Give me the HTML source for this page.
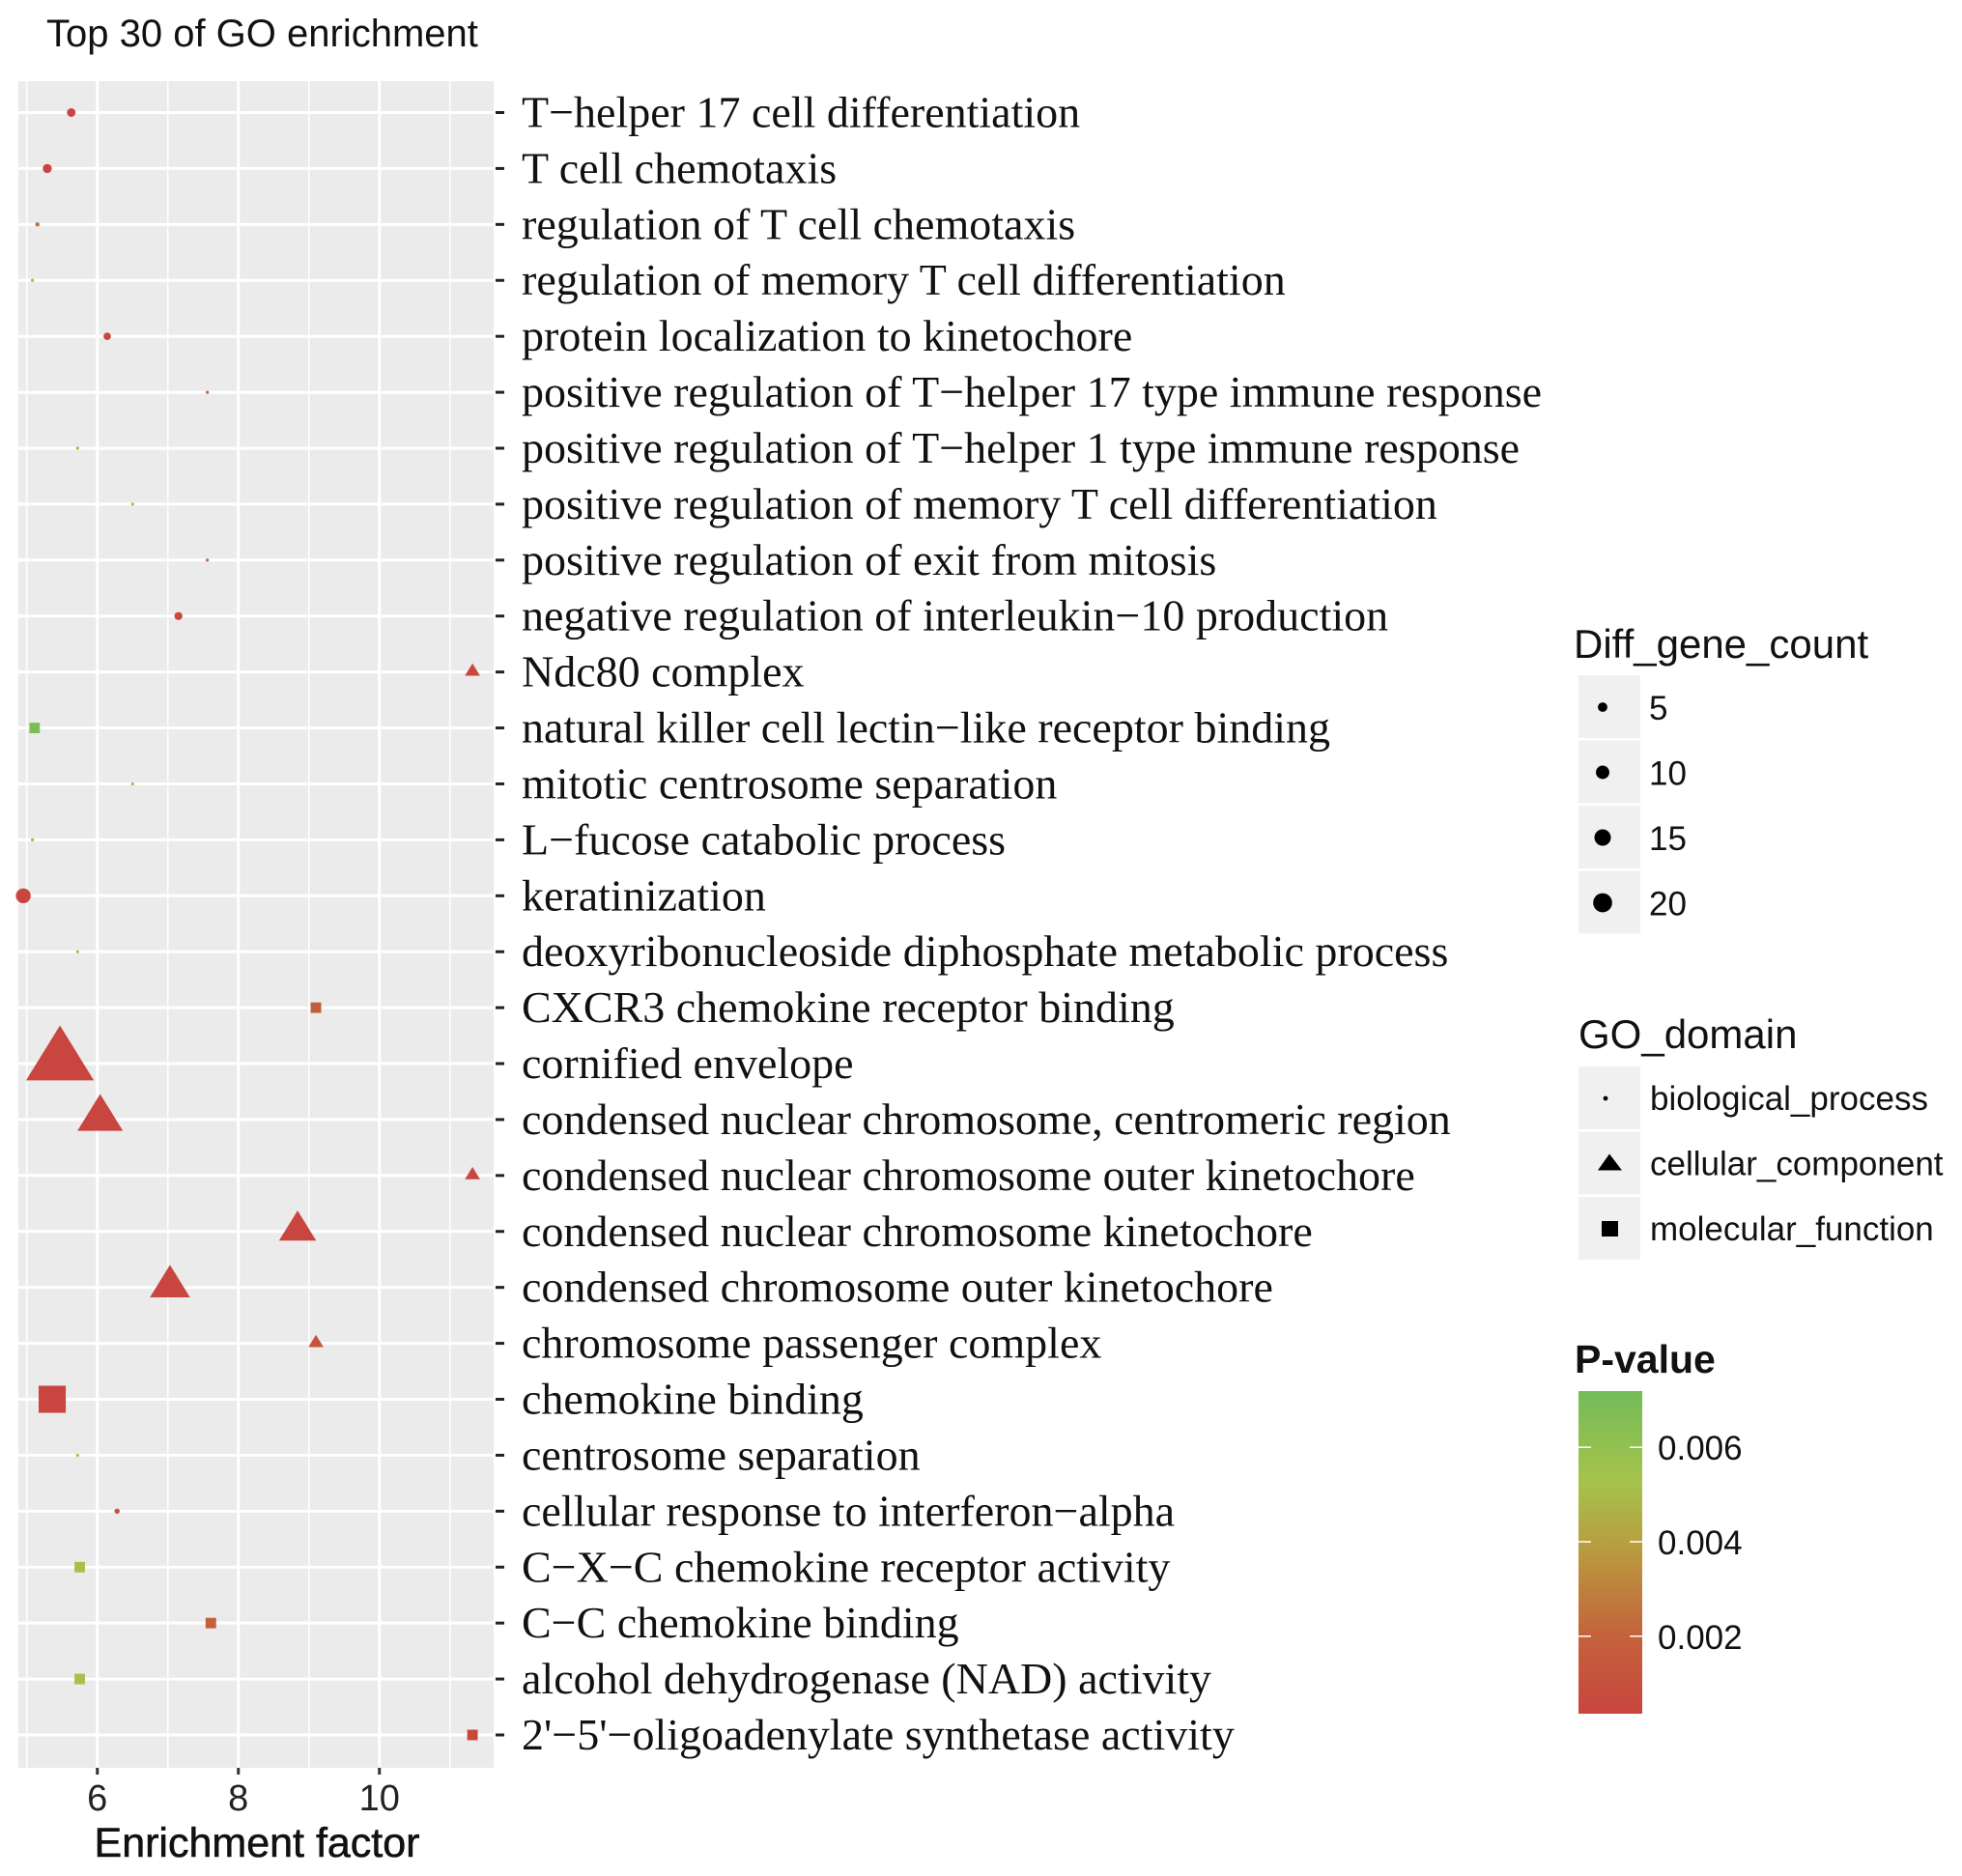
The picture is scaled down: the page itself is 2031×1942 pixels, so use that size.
<!DOCTYPE html>
<html><head><meta charset="utf-8"><style>
body{margin:0;background:#fff;}
svg{display:block;}
.sans{font-family:"Liberation Sans",sans-serif;}
.serif{font-family:"Liberation Serif",serif;}
</style></head><body>
<svg id="chart" width="2031" height="1942" viewBox="0 0 2031 1942" xmlns="http://www.w3.org/2000/svg">
<defs>
<linearGradient id="pgrad" x1="0" y1="1" x2="0" y2="0">
<stop offset="0" stop-color="#c8453f"/>
<stop offset="0.25" stop-color="#c4643b"/>
<stop offset="0.5" stop-color="#b99a3f"/>
<stop offset="0.72" stop-color="#a5c34b"/>
<stop offset="1" stop-color="#74bb58"/>
</linearGradient>
</defs>
<text class="sans" x="48" y="48" font-size="40" fill="#111">Top 30 of GO enrichment</text>
<g id="panel"></g>
<text class="sans" x="266" y="1922" font-size="43" text-anchor="middle" fill="#111" stroke="#111" stroke-width="0.6">Enrichment factor</text>
<g id="legend"></g>
</svg>
<script>
const terms = ["T\u2212helper 17 cell differentiation","T cell chemotaxis","regulation of T cell chemotaxis","regulation of memory T cell differentiation","protein localization to kinetochore","positive regulation of T\u2212helper 17 type immune response","positive regulation of T\u2212helper 1 type immune response","positive regulation of memory T cell differentiation","positive regulation of exit from mitosis","negative regulation of interleukin\u221210 production","Ndc80 complex","natural killer cell lectin\u2212like receptor binding","mitotic centrosome separation","L\u2212fucose catabolic process","keratinization","deoxyribonucleoside diphosphate metabolic process","CXCR3 chemokine receptor binding","cornified envelope","condensed nuclear chromosome, centromeric region","condensed nuclear chromosome outer kinetochore","condensed nuclear chromosome kinetochore","condensed chromosome outer kinetochore","chromosome passenger complex","chemokine binding","centrosome separation","cellular response to interferon\u2212alpha","C\u2212X\u2212C chemokine receptor activity","C\u2212C chemokine binding","alcohol dehydrogenase (NAD) activity","2'\u22125'\u2212oligoadenylate synthetase activity"];
const enrichment = [5.63,5.29,5.15,5.08,6.14,7.56,5.72,6.5,7.56,7.15,11.32,5.11,6.5,5.08,4.95,5.72,9.1,5.47,6.04,11.32,8.84,7.03,9.1,5.36,5.72,6.28,5.75,7.61,5.75,11.32];
const geneCount = [8,9,2,1,6,1,1,1,1,7,1,3,1,1,24,1,3,20,9,1,6,7,1,20,1,3,3,3,3,3];
const domain = ["bp","bp","bp","bp","bp","bp","bp","bp","bp","bp","cc","mf","bp","bp","bp","bp","mf","cc","cc","cc","cc","cc","cc","mf","bp","bp","mf","mf","mf","mf"];
const pvalue = [0.0004,0.0004,0.0025,0.006,0.0006,0.002,0.005,0.0055,0.002,0.0006,0.0005,0.0068,0.0055,0.006,0.0004,0.005,0.0015,0.0004,0.0004,0.0005,0.0004,0.0004,0.0012,0.0004,0.005,0.0012,0.0052,0.0018,0.0052,0.0006];
const xTicks = [6,8,10];
const xMinor = [5,7,9,11];
const legendSizes = [5,10,15,20];
const pTicks = [0.002,0.004,0.006];

const NS="http://www.w3.org/2000/svg";
const PL=19,PR=511,PT=84,PB=1830;
const X0=4.88,X1=11.62;
const xs=v=>PL+(v-X0)/(X1-X0)*(PR-PL);
const ROW0=116.5,ROWN=1796;
const ys=i=>ROW0+i*(ROWN-ROW0)/(terms.length-1);
const stops=[[0,[200,69,63]],[0.25,[196,100,59]],[0.5,[185,154,63]],[0.72,[165,195,75]],[1,[116,187,88]]];
const PMIN=0.00036,PMAX=0.00719;
function pcol(p){let t=(p-PMIN)/(PMAX-PMIN);t=Math.max(0,Math.min(1,t));
 for(let k=1;k<stops.length;k++){if(t<=stops[k][0]){const a=stops[k-1],b=stops[k];const u=(t-a[0])/(b[0]-a[0]);
 const c=a[1].map((v,j)=>Math.round(v+(b[1][j]-v)*u));return `rgb(${c.join(',')})`;}}return 'rgb(116,187,88)';}
function mk(tag,attrs,parent){const e=document.createElementNS(NS,tag);for(const k in attrs)e.setAttribute(k,attrs[k]);parent.appendChild(e);return e;}
const panel=document.getElementById('panel');
const bg=mk('rect',{x:PL,y:PT,width:PR-PL,height:PB-PT,fill:'#ebebeb'},panel);


xMinor.forEach(v=>{const l=mk('line',{x1:xs(v),x2:xs(v),y1:PT,y2:PB,stroke:'#fff','stroke-width':1.5},panel);
 
 });
xTicks.forEach(v=>{const l=mk('line',{x1:xs(v),x2:xs(v),y1:PT,y2:PB,stroke:'#fff','stroke-width':3},panel);
 
 
 const t=mk('line',{x1:xs(v),x2:xs(v),y1:PB,y2:PB+7,stroke:'#333','stroke-width':3},panel);
 
 
 const tx=mk('text',{x:xs(v),y:1874,'font-size':38,'text-anchor':'middle',fill:'#222',class:'sans'},panel);tx.textContent=v;
 
 });
terms.forEach((name,i)=>{const y=ys(i);
 const l=mk('line',{x1:PL,x2:PR,y1:y,y2:y,stroke:'#fff','stroke-width':3},panel);
 
 
 const tk=mk('line',{x1:513,x2:522,y1:y,y2:y,stroke:'#222','stroke-width':3},panel);
 
 
 const tx=mk('text',{x:540,y:y+15,'font-size':46,fill:'#111',class:'serif'},panel);tx.textContent=name;
 
 });
function shape(dom,cx,cy,c,fill,parent){const r=1.57*Math.sqrt(c);let e;
 if(dom==='bp'){e=mk('circle',{cx,cy,r:Math.max(r,1.6),fill},parent);}
 else if(dom==='mf'){const h=2*r;e=mk('rect',{x:cx-h,y:cy-h,width:2*h,height:2*h,fill},parent);}
 else{const h=5*r;const hh=h*0.9;e=mk('polygon',{points:`${cx-h},${cy+hh*0.55} ${cx+h},${cy+hh*0.55} ${cx},${cy-hh*1.25}`,fill},parent);}
 return e;}
terms.forEach((name,i)=>{const e=shape(domain[i],xs(enrichment[i]),ys(i),geneCount[i],pcol(pvalue[i]),panel);
 
 });
const lg=document.getElementById('legend');
function txt(s,x,y,size,parent,name,weight){const t=mk('text',{x,y,'font-size':size,fill:'#111',class:'sans','font-weight':weight||'normal'},parent);t.textContent=s;
 
 return t;}
txt('Diff_gene_count',1629,681,42,lg,'size-legend-title');
legendSizes.forEach((s,k)=>{const cy=732+k*67.5;
 const b=mk('rect',{x:1634,y:cy-33,width:64,height:65,fill:'#f0f0f0'},lg);
 
 
 const c=mk('circle',{cx:1659,cy,r:2.2*Math.sqrt(s),fill:'#000'},lg);
 
 
 txt(String(s),1707,cy+13,35,lg,'size-legend-label');});
txt('GO_domain',1634,1085,42,lg,'domain-legend-title');
const doms=[['bp','biological_process'],['cc','cellular_component'],['mf','molecular_function']];
doms.forEach((d,k)=>{const cy=1137+k*67.5;
 const b=mk('rect',{x:1634,y:cy-33,width:64,height:65,fill:'#f0f0f0'},lg);
 
 
 let e;
 if(d[0]==='bp')e=mk('circle',{cx:1662,cy,r:2.4,fill:'#000'},lg);
 else if(d[0]==='cc')e=mk('polygon',{points:`1654,${cy+7} 1679,${cy+7} 1666,${cy-10}`,fill:'#000'},lg);
 else e=mk('rect',{x:1658,y:cy-8,width:17,height:16,fill:'#000'},lg);
 
 
 txt(d[1],1708,cy+12,35,lg,'domain-legend-label');});
txt('P-value',1630,1421,41,lg,'pvalue-legend-title','bold');
const cb=mk('rect',{x:1634,y:1440,width:66,height:334,fill:'url(#pgrad)'},lg);


const cy=p=>1774-(p-PMIN)/(PMAX-PMIN)*334;
pTicks.forEach(p=>{const y=cy(p);
 const a=mk('line',{x1:1634,x2:1647,y1:y,y2:y,stroke:'#fff','stroke-width':1.5},lg);
 
 
 const b=mk('line',{x1:1687,x2:1700,y1:y,y2:y,stroke:'#fff','stroke-width':1.5},lg);
 
 
 txt(p.toFixed(3),1716,y+13,35,lg,'colorbar-label');});
</script>
</body></html>
